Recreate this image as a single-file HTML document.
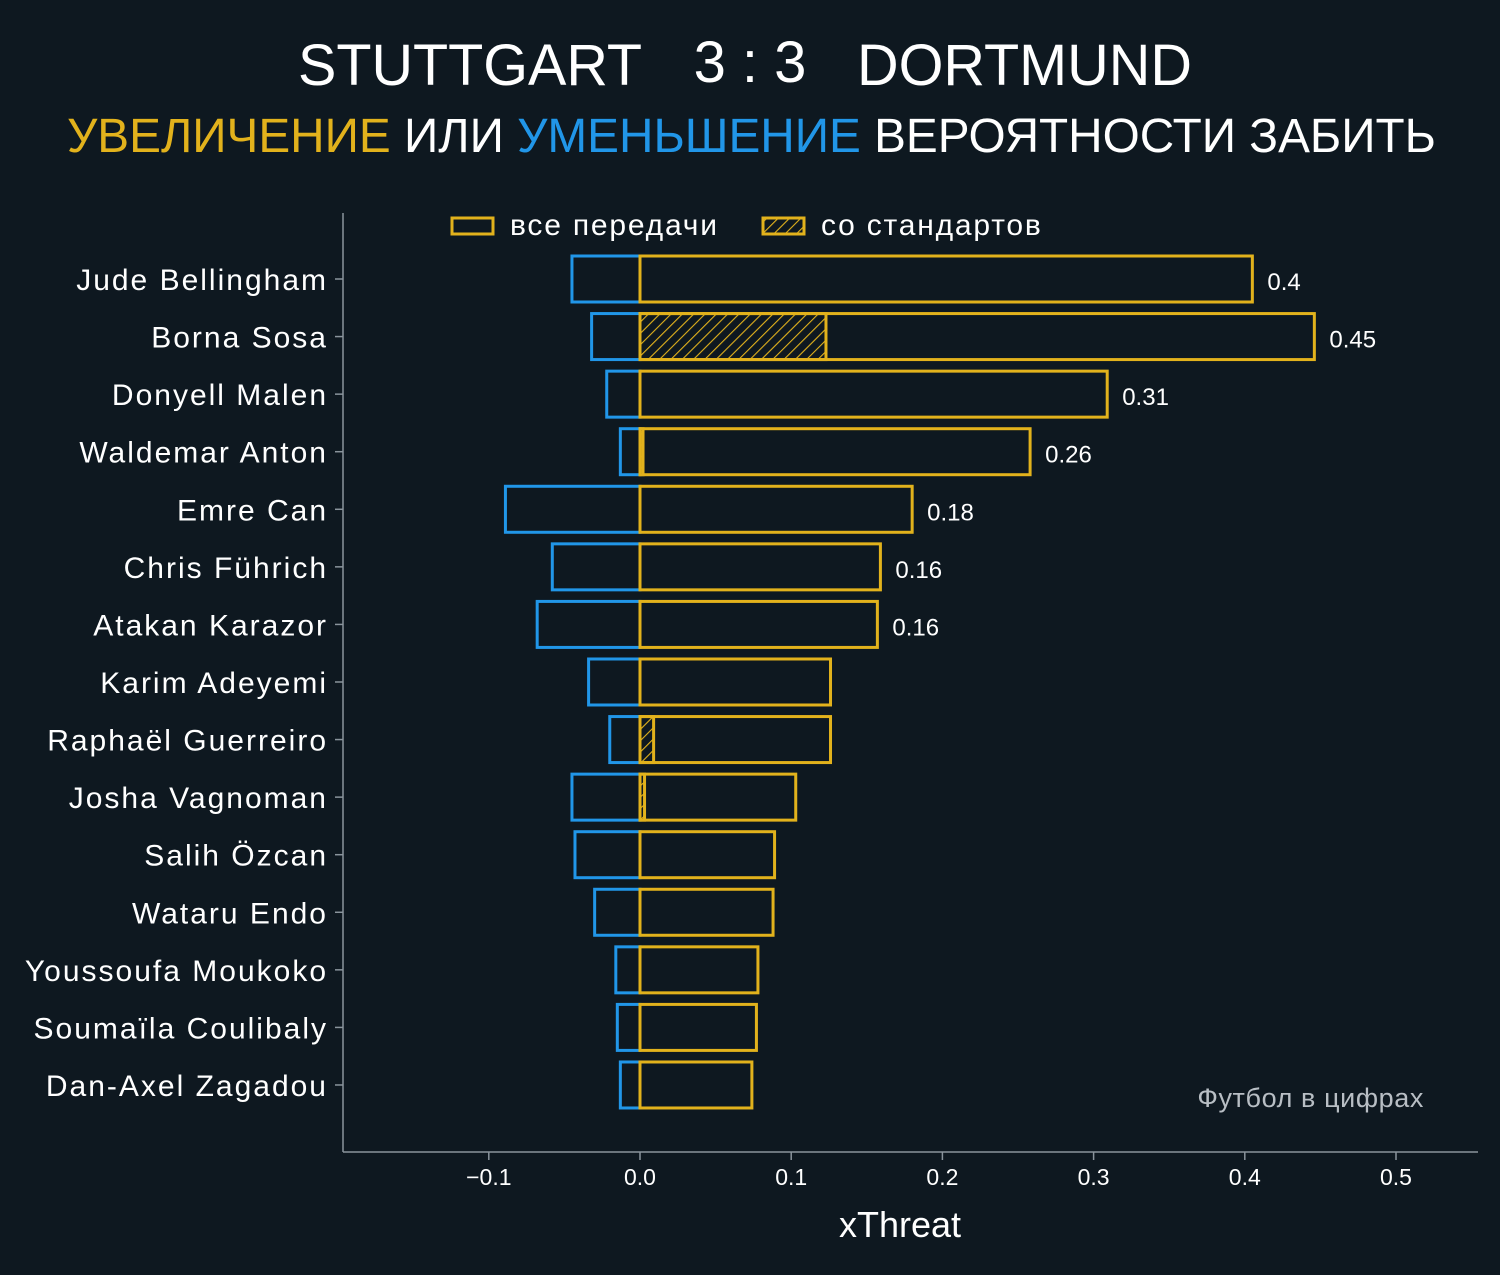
<!DOCTYPE html>
<html><head><meta charset="utf-8"><style>
body{margin:0;background:#0e1820;}
svg{display:block;font-family:"Liberation Sans",sans-serif;}
</style></head><body>
<svg id="c" width="1500" height="1275" viewBox="0 0 1500 1275">
<defs><pattern id="hatch" patternUnits="userSpaceOnUse" width="8" height="8" patternTransform="rotate(45)"><line x1="0" y1="0" x2="0" y2="8" stroke="#e2b21c" stroke-width="2.2"/></pattern></defs>
<rect width="1500" height="1275" fill="#0e1820"/>
<g fill="#fff" font-size="58">
<text x="298" y="85" textLength="344" lengthAdjust="spacingAndGlyphs">STUTTGART</text>
<text x="750" y="82" text-anchor="middle">3 : 3</text>
<text x="857" y="85" textLength="335" lengthAdjust="spacingAndGlyphs">DORTMUND</text>
</g>
<text x="67" y="152" font-size="48" textLength="1369" lengthAdjust="spacingAndGlyphs"><tspan fill="#e2b21c">УВЕЛИЧЕНИЕ</tspan><tspan fill="#fff"> ИЛИ </tspan><tspan fill="#2196e8">УМЕНЬШЕНИЕ</tspan><tspan fill="#fff"> ВЕРОЯТНОСТИ ЗАБИТЬ</tspan></text>
<g>
<rect x="452" y="218" width="41" height="16" fill="none" stroke="#e2b21c" stroke-width="3"/>
<text x="510" y="235" fill="#fff" font-size="30" letter-spacing="1.8">все передачи</text>
<rect x="763" y="218" width="41" height="16" fill="url(#hatch)" stroke="#e2b21c" stroke-width="3"/>
<text x="821" y="235" fill="#fff" font-size="30" letter-spacing="1.8">со стандартов</text>
</g>
<line x1="343" y1="213" x2="343" y2="1152" stroke="#8a949c" stroke-width="1.5"/>
<line x1="343" y1="1152" x2="1478" y2="1152" stroke="#8a949c" stroke-width="1.5"/>
<text x="900" y="1237" fill="#fff" font-size="36" text-anchor="middle">xThreat</text>
<text x="1424" y="1107" fill="#b8bec4" font-size="27" text-anchor="end" letter-spacing="0.6">Футбол в цифрах</text>
<g id="plot"></g>
</svg>
<script>
const players=["Jude Bellingham","Borna Sosa","Donyell Malen","Waldemar Anton","Emre Can","Chris Führich","Atakan Karazor","Karim Adeyemi","Raphaël Guerreiro","Josha Vagnoman","Salih Özcan","Wataru Endo","Youssoufa Moukoko","Soumaïla Coulibaly","Dan-Axel Zagadou"];
const positive=[0.405,0.446,0.309,0.258,0.180,0.159,0.157,0.126,0.126,0.103,0.089,0.088,0.078,0.077,0.074];
const setPiece=[0,0.123,0,0.002,0,0,0,0,0.009,0.003,0,0,0,0,0];
const negative=[-0.045,-0.032,-0.022,-0.013,-0.089,-0.058,-0.068,-0.034,-0.020,-0.045,-0.043,-0.030,-0.016,-0.015,-0.013];
const valueLabels=["0.4","0.45","0.31","0.26","0.18","0.16","0.16","","","","","","","",""];
const xTicks=[-0.1,0,0.1,0.2,0.3,0.4,0.5];
const xTickLabels=["−0.1","0.0","0.1","0.2","0.3","0.4","0.5"];
const NS="http://www.w3.org/2000/svg";
const X=v=>640+v*1512;
const Y=i=>279+i*57.57;
const H=46;
const g=document.getElementById('plot');
function mk(t,a){const e=document.createElementNS(NS,t);for(const k in a)e.setAttribute(k,a[k]);g.appendChild(e);return e;}
xTicks.forEach((v,i)=>{
  const t=mk('line',{x1:X(v),x2:X(v),y1:1152,y2:1160,stroke:'#8a949c','stroke-width':1.5});
  
  
  const l=mk('text',{x:X(v),y:1185,fill:'#fff','font-size':23,'text-anchor':'middle'});
  l.textContent=xTickLabels[i];
  
  
});
players.forEach((p,i)=>{
  const y=Y(i);
  const tk=mk('line',{x1:335,x2:343,y1:y,y2:y,stroke:'#8a949c','stroke-width':1.5});
  
  
  const lb=mk('text',{x:328,y:y+11,fill:'#fff','font-size':30,'text-anchor':'end','letter-spacing':2});
  lb.textContent=p;
  
  
  const nb=mk('rect',{x:X(negative[i]),y:y-H/2,width:X(0)-X(negative[i]),height:H,fill:'none',stroke:'#2196e8','stroke-width':3});
  
  
  if(setPiece[i]>0){
    const sb=mk('rect',{x:X(0),y:y-H/2,width:X(setPiece[i])-X(0),height:H,fill:'url(#hatch)',stroke:'#e2b21c','stroke-width':3});
    
    
  }
  const pb=mk('rect',{x:X(0),y:y-H/2,width:X(positive[i])-X(0),height:H,fill:'none',stroke:'#e2b21c','stroke-width':3});
  
  
  if(valueLabels[i]){
    const vl=mk('text',{x:X(positive[i])+15,y:y+11,fill:'#fff','font-size':24});
    vl.textContent=valueLabels[i];
    
    
  }
});
</script>
</body></html>
